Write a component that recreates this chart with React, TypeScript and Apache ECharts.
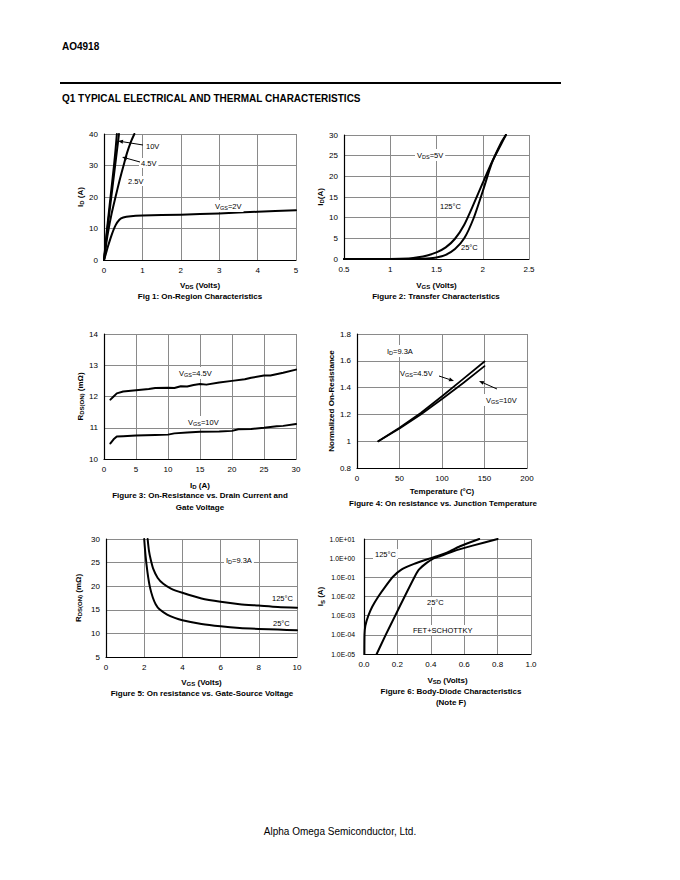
import React, { useEffect, useRef } from 'react';
import * as echarts from 'echarts';

const FONT = '"Liberation Sans", Arial, Helvetica, sans-serif';

// ---------- Fig 1: On-Region Characteristics (ID vs VDS) ----------
const fig1Vgs10: [number, number][] = [[0, 0], [0.04, 5], [0.08, 10], [0.125, 15], [0.17, 20], [0.215, 25], [0.26, 30], [0.3, 35], [0.335, 40]];
const fig1Vgs45: [number, number][] = [[0, 0], [0.045, 5], [0.09, 10], [0.14, 15], [0.19, 20], [0.24, 25], [0.29, 30], [0.34, 35], [0.39, 40]];
const fig1Vgs25: [number, number][] = [[0, 0], [0.05, 4.5], [0.1, 8.5], [0.2, 14.8], [0.3, 20], [0.4, 25], [0.52, 30.5], [0.6, 34], [0.7, 37.5], [0.79, 40]];
const fig1Vgs2: [number, number][] = [[0, 0], [0.05, 2], [0.1, 4.2], [0.2, 8], [0.3, 11], [0.4, 12.8], [0.5, 13.5], [0.7, 13.9], [1, 14.1], [2, 14.4], [3, 14.8], [4, 15.3], [5, 15.8]];

// ---------- Fig 2: Transfer Characteristics (ID vs VGS) ----------
const fig2T125: [number, number][] = [[0.5, 0], [1.0, 0.02], [1.2, 0.15], [1.3, 0.4], [1.4, 0.85], [1.5, 1.6], [1.6, 2.8], [1.7, 4.9], [1.8, 8.3], [1.9, 13.2], [2.0, 18.4], [2.1, 23.5], [2.2, 27.8], [2.25, 30]];
const fig2T25: [number, number][] = [[0.5, 0], [1.3, 0], [1.4, 0.1], [1.5, 0.35], [1.6, 1], [1.7, 2.4], [1.8, 5], [1.9, 9.8], [2.0, 16.4], [2.1, 23.3], [2.2, 28.2], [2.25, 30]];

// ---------- Fig 3: RDS(ON) vs ID ----------
const fig3Vgs45: [number, number][] = [[1, 11.9], [1.5, 12.0], [2, 12.1], [3, 12.16], [5, 12.2], [7, 12.24], [8, 12.27], [10, 12.28], [11, 12.27], [12, 12.33], [13, 12.32], [14, 12.37], [15, 12.4], [16, 12.38], [18, 12.45], [20, 12.5], [22, 12.55], [23, 12.6], [25, 12.67], [26, 12.67], [28, 12.76], [30, 12.86]];
const fig3Vgs10: [number, number][] = [[1, 10.5], [1.5, 10.63], [2, 10.72], [3, 10.73], [5, 10.75], [8, 10.77], [10, 10.78], [11, 10.82], [13, 10.85], [15, 10.87], [18, 10.88], [20, 10.9], [21, 10.95], [23, 10.96], [25, 11.0], [27, 11.05], [28, 11.06], [30, 11.12]];

// ---------- Fig 4: Normalized On-Resistance vs Temperature ----------
const fig4Vgs45: [number, number][] = [[25, 1], [50, 1.1], [75, 1.21], [100, 1.335], [125, 1.465], [150, 1.595]];
const fig4Vgs10: [number, number][] = [[25, 1], [50, 1.095], [75, 1.2], [100, 1.315], [125, 1.435], [150, 1.56]];

// ---------- Fig 5: RDS(ON) vs VGS ----------
const fig5T125: [number, number][] = [[2.18, 30], [2.25, 27.5], [2.35, 25.5], [2.48, 23.6], [2.7, 21.8], [3.0, 20.5], [3.4, 19.5], [4, 18.6], [5, 17.4], [6, 16.7], [7, 16.2], [8, 15.9], [9, 15.6], [10, 15.45]];
const fig5T25: [number, number][] = [[2.0, 30], [2.07, 26.5], [2.17, 23], [2.3, 19.8], [2.45, 17.6], [2.6, 16.2], [2.8, 15.1], [3.2, 14.0], [3.6, 13.3], [4, 12.8], [5, 12.0], [6, 11.5], [7, 11.15], [8, 10.95], [9, 10.8], [10, 10.65]];

// ---------- Fig 6: Body-Diode Characteristics (IS vs VSD) ----------
const fig6T125: [number, number][] = [[0.002, 1e-5], [0.003, 1e-4], [0.008, 3e-4], [0.026, 1e-3], [0.05, 3e-3], [0.086, 1e-2], [0.13, 3.5e-2], [0.175, 0.11], [0.226, 0.26], [0.3, 0.5], [0.375, 0.85], [0.435, 1.26], [0.5, 2], [0.575, 4.2], [0.69, 10]];
const fig6T25: [number, number][] = [[0.076, 1e-5], [0.13, 1e-4], [0.187, 1e-3], [0.245, 1.07e-2], [0.305, 0.115], [0.33, 0.26], [0.375, 0.57], [0.41, 0.9], [0.455, 1.26], [0.535, 2.3], [0.65, 4.5], [0.8, 10]];

const fig6Ticks = (v: number) => {
  const e = Math.round(Math.log10(v));
  return '1.0E' + (e < 0 ? '-' : '+') + String(Math.abs(e)).padStart(2, '0');
};

const NAME_RICH = {
  b: { fontWeight: 'bold', fontSize: 8, fontFamily: FONT, color: '#000', fill: '#000' },
  bs: { fontWeight: 'bold', fontSize: 6, fontFamily: FONT, color: '#000', fill: '#000', padding: [4, 0, 0, 0] },
};
const TXT_RICH = {
  n: { fontSize: 7.5, fontFamily: FONT, color: '#000', fill: '#000' },
  s: { fontSize: 5.5, fontFamily: FONT, color: '#000', fill: '#000', padding: [4, 0, 0, 0] },
};

const grids = [
  { left: 104, top: 134, width: 192, height: 126 },
  { left: 344, top: 135, width: 185, height: 124 },
  { left: 104, top: 334, width: 192, height: 125 },
  { left: 357, top: 334, width: 170, height: 134 },
  { left: 106, top: 539, width: 191, height: 118 },
  { left: 364, top: 539, width: 167, height: 115 },
];

function axisBase(gi: number, name: string, nameGap: number) {
  return {
    gridIndex: gi,
    name,
    nameLocation: 'middle',
    nameGap,
    nameTextStyle: { rich: NAME_RICH, fontWeight: 'bold', fontSize: 8, fontFamily: FONT, color: '#000' },
    axisLine: { show: true, onZero: false, lineStyle: { color: '#000', width: 1.2 } },
    axisTick: { show: false },
    axisLabel: { fontSize: 8, fontFamily: FONT, color: '#000', margin: 6 },
    splitLine: { show: true, lineStyle: { color: '#8a8a8a', width: 1 } },
  };
}

function xAx(gi: number, min: number, max: number, interval: number, name: string, gap: number, fmt?: (v: number) => string) {
  const a: any = { ...axisBase(gi, name, gap), type: 'value', min, max, interval };
  if (fmt) a.axisLabel = { ...a.axisLabel, formatter: fmt };
  return a;
}
function yAx(gi: number, min: number, max: number, interval: number, name: string, gap: number) {
  return { ...axisBase(gi, name, gap), type: 'value', min, max, interval };
}

function curve(gi: number, data: [number, number][], width = 2, smooth: any = 0.25) {
  return {
    type: 'line',
    xAxisIndex: gi,
    yAxisIndex: gi,
    data,
    showSymbol: false,
    symbol: 'none',
    smooth,
    clip: true,
    lineStyle: { color: '#000', width, join: 'round', cap: 'round' },
    silent: true,
  };
}

function note(x: number, y: number, text: string, bg = true) {
  return {
    type: 'text',
    x,
    y,
    z: 100,
    style: {
      text,
      rich: TXT_RICH,
      fill: '#000',
      font: `7.5px ${FONT}`,
      textAlign: 'left',
      textVerticalAlign: 'middle',
      backgroundColor: bg ? '#fff' : undefined,
      padding: bg ? [1, 2, 1, 2] : 0,
    },
  };
}

function caption(x: number, y: number, text: string) {
  return {
    type: 'text',
    x,
    y,
    style: { text, fill: '#000', font: `bold 8px ${FONT}`, textAlign: 'center', textVerticalAlign: 'middle' },
  };
}

function arrow(x1: number, y1: number, x2: number, y2: number) {
  const dx = x2 - x1, dy = y2 - y1;
  const len = Math.sqrt(dx * dx + dy * dy);
  const ux = dx / len, uy = dy / len;
  const hl = 5, hw = 2;
  const bx = x2 - ux * hl, by = y2 - uy * hl;
  return [
    { type: 'line', z: 101, shape: { x1, y1, x2: bx, y2: by }, style: { stroke: '#000', lineWidth: 1 } },
    {
      type: 'polygon',
      z: 101,
      shape: { points: [[x2, y2], [bx - uy * hw, by + ux * hw], [bx + uy * hw, by - ux * hw]] },
      style: { fill: '#000' },
    },
  ];
}

export default function App() {
  const ref = useRef<HTMLDivElement>(null);
  useEffect(() => {
    document.body.style.margin = '0';
    if (!ref.current) return;
    const chart = echarts.init(ref.current, undefined, { renderer: 'svg' });
    const fig6X: any = xAx(5, 0, 1, 0.2, '{b|V}{bs|SD}{b| (Volts)}', 21, (v: number) => v.toFixed(1));
    const fig6Y: any = {
      ...axisBase(5, '{b|I}{bs|S}{b| (A)}', 38),
      type: 'log',
      logBase: 10,
      min: 1e-5,
      max: 10,
      splitNumber: 6,
      axisLabel: { fontSize: 6.8, fontFamily: FONT, color: '#000', margin: 9, formatter: fig6Ticks },
    };
    const option: any = {
      animation: false,
      backgroundColor: '#fff',
      textStyle: { fontFamily: FONT },
      grid: grids.map((g) => ({ ...g, containLabel: false, show: false })),
      xAxis: [
        xAx(0, 0, 5, 1, '{b|V}{bs|DS}{b| (Volts)}', 20),
        xAx(1, 0.5, 2.5, 0.5, '{b|V}{bs|GS}{b| (Volts)}', 21),
        xAx(2, 0, 30, 5, '{b|I}{bs|D}{b| (A)}', 21),
        xAx(3, 0, 200, 50, '{b|Temperature (°C)}', 19),
        xAx(4, 0, 10, 2, '{b|V}{bs|GS}{b| (Volts)}', 20),
        fig6X,
      ],
      yAxis: [
        yAx(0, 0, 40, 10, '{b|I}{bs|D}{b| (A)}', 19),
        yAx(1, 0, 30, 5, '{b|I}{bs|D}{b|(A)}', 17),
        yAx(2, 10, 14, 1, '{b|R}{bs|DS(ON)}{b| (mΩ)}', 18),
        yAx(3, 0.8, 1.8, 0.2, '{b|Normalized On-Resistance}', 21),
        yAx(4, 5, 30, 5, '{b|R}{bs|DS(ON)}{b| (mΩ)}', 23),
        fig6Y,
      ],
      series: [
        curve(0, fig1Vgs10, 2),
        curve(0, fig1Vgs45, 2),
        curve(0, fig1Vgs25, 2),
        curve(0, fig1Vgs2, 2),
        curve(1, fig2T125, 2),
        curve(1, fig2T25, 2),
        curve(2, fig3Vgs45, 2, false),
        curve(2, fig3Vgs10, 2, false),
        curve(3, fig4Vgs45, 1.8, false),
        curve(3, fig4Vgs10, 1.8, false),
        curve(4, fig5T125, 2, 0.25),
        curve(4, fig5T25, 2, 0.25),
        curve(5, fig6T125, 2, 0.2),
        curve(5, fig6T25, 2, 0.2),
      ],
      graphic: [
        // header
        { type: 'text', x: 62, y: 46, style: { text: 'AO4918', fill: '#000', font: `bold 10px ${FONT}`, textAlign: 'left', textVerticalAlign: 'middle' } },
        { type: 'line', shape: { x1: 60, y1: 83, x2: 561, y2: 83 }, style: { stroke: '#000', lineWidth: 2 } },
        { type: 'text', x: 62, y: 98, style: { text: 'Q1 TYPICAL ELECTRICAL AND THERMAL CHARACTERISTICS', fill: '#000', font: `bold 10px ${FONT}`, textAlign: 'left', textVerticalAlign: 'middle' } },
        { type: 'text', x: 340, y: 831, style: { text: 'Alpha Omega Semiconductor, Ltd.', fill: '#000', font: `10px ${FONT}`, textAlign: 'center', textVerticalAlign: 'middle' } },
        // captions
        caption(200, 296, 'Fig 1: On-Region Characteristics'),
        caption(436, 296, 'Figure 2: Transfer Characteristics'),
        caption(200, 495, 'Figure 3: On-Resistance vs. Drain Current and'),
        caption(200, 507, 'Gate Voltage'),
        caption(443, 503, 'Figure 4: On resistance vs. Junction Temperature'),
        caption(202, 693, 'Figure 5: On resistance vs. Gate-Source Voltage'),
        caption(451, 691, 'Figure 6: Body-Diode Characteristics'),
        caption(451, 702, '(Note F)'),
        // fig1 notes
        note(144, 146, '{n|10V}'),
        note(139, 163, '{n|4.5V}'),
        note(126, 181, '{n|2.5V}'),
        note(213, 206, '{n|V}{s|GS}{n|=2V}'),
        ...arrow(143, 145, 118, 141),
        ...arrow(140, 162, 122, 157),
        // fig2 notes
        note(415, 155, '{n|V}{s|DS}{n|=5V}'),
        note(438, 206, '{n|125°C}'),
        note(461, 247, '{n|25°C}', false),
        // fig3 notes
        note(177, 373, '{n|V}{s|GS}{n|=4.5V}'),
        note(186, 422, '{n|V}{s|GS}{n|=10V}'),
        // fig4 notes
        note(385, 351, '{n|I}{s|D}{n|=9.3A}'),
        note(400, 373, '{n|V}{s|GS}{n|=4.5V}', false),
        note(484, 400, '{n|V}{s|GS}{n|=10V}'),
        ...arrow(439, 376, 454, 381),
        ...arrow(497, 389, 479, 381),
        // fig5 notes
        note(224, 560, '{n|I}{s|D}{n|=9.3A}'),
        note(270, 598, '{n|125°C}'),
        note(271, 623, '{n|25°C}'),
        // fig6 notes
        note(373, 554, '{n|125°C}'),
        note(425, 602, '{n|25°C}'),
        note(411, 630, '{n|FET+SCHOTTKY}'),
      ],
    };
    chart.setOption(option);
    return () => chart.dispose();
  }, []);
  return <div ref={ref} style={{ width: 680, height: 880, background: '#fff' }} />;
}
